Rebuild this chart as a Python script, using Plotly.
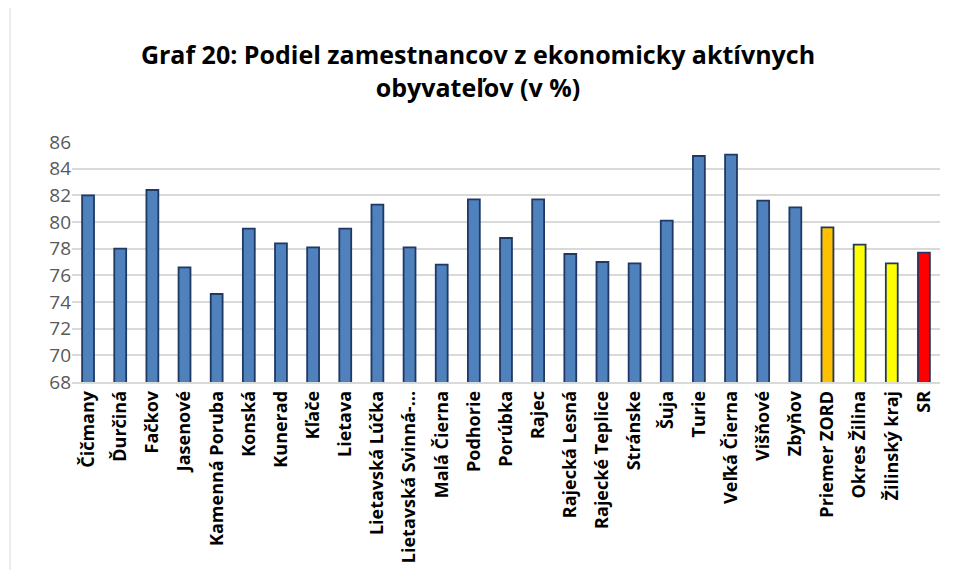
import plotly.graph_objects as go

# Data
obce = ["Čičmany", "Ďurčiná", "Fačkov", "Jasenové", "Kamenná Poruba", "Konská",
        "Kunerad", "Kľače", "Lietava", "Lietavská Lúčka", "Lietavská Svinná-...",
        "Malá Čierna", "Podhorie", "Porúbka", "Rajec", "Rajecká Lesná",
        "Rajecké Teplice", "Stránske", "Šuja", "Turie", "Veľká Čierna", "Višňové",
        "Zbyňov", "Priemer ZORD", "Okres Žilina", "Žilinský kraj", "SR"]
podiel = [82.0, 78.0, 82.4, 76.6, 74.6, 79.5, 78.4, 78.1, 79.5, 81.3, 78.1,
          76.8, 81.7, 78.8, 81.7, 77.6, 77.0, 76.9, 80.1, 84.95, 85.05, 81.6,
          81.1, 79.6, 78.3, 76.9, 77.7]
farby = ["#4F81BD"] * 23 + ["#FFC000", "#FFFF00", "#FFFF00", "#FF0000"]

y_ticks = list(range(68, 87, 2))

# page body has an 8px margin, so the figure is a bit smaller than the window
W, H = 940, 562
ml, mr, mt, mb = 64, 8, 134, 188

fig = go.Figure()

fig.add_trace(go.Bar(
    x=obce,
    y=podiel,
    marker=dict(color=farby, line=dict(color="#1F3864", width=1.8)),
    showlegend=False,
))

fig.update_layout(
    width=W, height=H,
    margin=dict(l=ml, r=mr, t=mt, b=mb, autoexpand=False),
    plot_bgcolor="white",
    paper_bgcolor="white",
    bargap=0.63,
    title=dict(
        text="<b>Graf 20: Podiel zamestnancov z ekonomicky aktívnych<br>obyvateľov (v %)</b>",
        x=0.5, xanchor="center", y=1 - 56 / H, yanchor="top",
        font=dict(family="Open Sans", size=25, color="black"),
    ),
    xaxis=dict(
        automargin=False,
        tickangle=-90,
        tickfont=dict(family="Open Sans", size=18, color="black", weight="bold"),
        showline=True, linecolor="#D9D9D9", linewidth=1.5,
        ticks="",
    ),
    yaxis=dict(
        automargin=False,
        range=[68, 86],
        tickvals=y_ticks,
        tickfont=dict(family="Open Sans", size=19, color="#595959"),
        showgrid=True, gridcolor="#D9D9D9", gridwidth=1.5,
        zeroline=False,
        ticks="",
    ),
)

# Chart area border (left edge visible in the reference)
pw = W - ml - mr
fig.add_shape(type="line", xref="paper", yref="paper",
              x0=(2 - ml) / pw, x1=(2 - ml) / pw,
              y0=-mb / (H - mt - mb), y1=1 + mt / (H - mt - mb),
              line=dict(color="#D9D9D9", width=1))

fig.write_html("out.html")
